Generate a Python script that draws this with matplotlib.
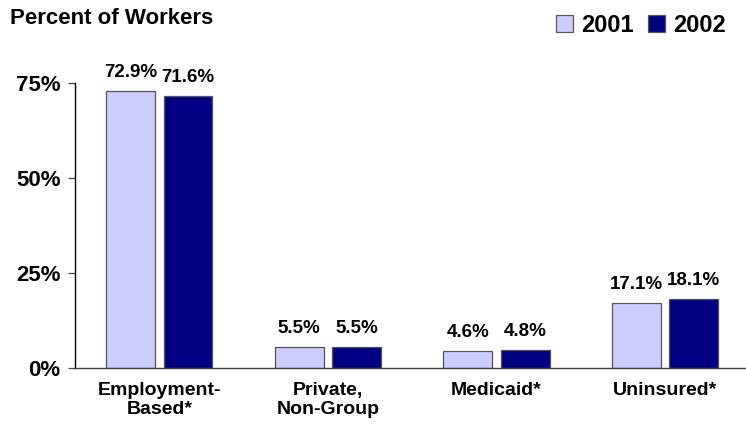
import matplotlib as mpl
mpl.use('Agg')
import matplotlib.pyplot as plt
import numpy as np

# health coverage of workers, by source
categories = ['Employment-\nBased*', 'Private,\nNon-Group', 'Medicaid*', 'Uninsured*']
years = ['2001', '2002']
pct_2001 = [72.9, 5.5, 4.6, 17.1]
pct_2002 = [71.6, 5.5, 4.8, 18.1]
y_ticks = [0, 25, 50, 75]
y_tick_labels = ['0%', '25%', '50%', '75%']

plt.rcParams['font.family'] = ['Liberation Sans', 'DejaVu Sans']
plt.rcParams['font.weight'] = 'bold'

fig = plt.figure(figsize=(7.46, 4.29), dpi=100)
ax = fig.add_axes([75 / 746, 61 / 429, 1 - 75 / 746, 285 / 429])

x = np.arange(len(categories))
w = 0.29
off = 0.17
colors = ['#ccccff', '#000080']
for vals, c, d, yr in zip([pct_2001, pct_2002], colors, [-off, off], years):
    ax.bar(x + d, vals, w, color=c, edgecolor='#555555', linewidth=0.9, label=yr)
    for xi, v in zip(x + d, vals):
        ax.text(xi, v + 2.6, f'{v:.1f}%', ha='center', va='bottom',
                fontsize=13.5, fontweight='bold')

ax.set_xlim(-0.5, 3.48)
ax.set_ylim(0, 75)
ax.set_yticks(y_ticks)
ax.set_yticklabels(y_tick_labels, fontsize=16, fontweight='bold')
ax.set_xticks(x)
ax.set_xticklabels(categories, fontsize=14, fontweight='bold')
ax.tick_params(axis='x', length=0, pad=10)
ax.tick_params(axis='y', length=5, width=0.9, direction='out', pad=5.5, color='#444444')
for s in ['top', 'right']:
    ax.spines[s].set_visible(False)
ax.spines['left'].set_linewidth(1.0)
ax.spines['bottom'].set_linewidth(1.0)
ax.spines['bottom'].set_color('#444444')

fig.text(10 / 746, 1 - 18 / 429, 'Percent of Workers', fontsize=16,
         fontweight='bold', va='center', ha='left')

leg = fig.legend(loc='upper right', bbox_to_anchor=(0.992, 1.0), ncol=2, frameon=False,
                 prop={'size': 17, 'weight': 'bold'}, handlelength=0.72, handleheight=0.72,
                 handletextpad=0.35, columnspacing=0.6, borderaxespad=0.2)

plt.savefig('out.png', dpi=100)
